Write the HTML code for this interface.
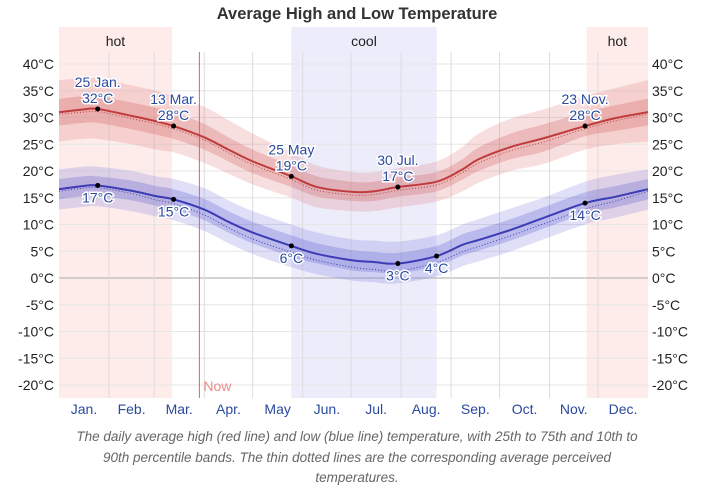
<!DOCTYPE html>
<html><head><meta charset="utf-8"><style>
body{margin:0;background:#fff;width:714px;height:490px;overflow:hidden;font-family:"Liberation Sans",sans-serif}
#cap{position:absolute;left:0;top:427px;width:714px;text-align:center;font-style:italic;color:#666;font-size:13.5px;line-height:20.5px}
</style></head><body>
<svg id="chart" width="714" height="490" style="position:absolute;left:0;top:0"></svg>
<div id="cap">The daily average high (red line) and low (blue line) temperature, with 25th to 75th and 10th to<br>90th percentile bands. The thin dotted lines are the corresponding average perceived<br>temperatures.</div>
<script>
const days=[0,15,24,45,60,71,90,105,120,144,160,182,195,210,234,250,260,280,300,326,345,365];
const high=[31,31.5,31.6,30.3,29.3,28.4,26.3,24,21.8,19,17,16.1,16.2,17,18,20.3,22.2,24.5,26.1,28.4,29.9,31];
const highP90=[37,37.3,37.3,36,35,34,32,29.5,27,23.5,21,19.8,19.8,20.5,21.8,24.5,27,29.8,31.5,34,35.5,37];
const highP75=[33.5,34,34,32.8,31.8,31,28.8,26.3,24,21,19,18,18,18.8,19.8,22.2,24.4,27,28.7,31,32.3,33.5];
const highP25=[28.5,29,29,27.8,26.8,26,24,21.8,19.6,17,15.2,14.4,14.4,15.2,16.2,18.4,20,22.2,23.6,26.5,27.5,28.5];
const highP10=[25.5,26,26,25,24,23.5,21.5,19.5,17.5,15,13.2,12.5,12.5,13.2,14.3,16.2,17.8,20,21.3,24,25,25.5];
const highFeel=[30.6,31,31.1,29.8,28.8,27.9,25.8,23.4,21.2,18.4,16.4,15.5,15.6,16.4,17.4,19.7,21.5,23.8,25.4,27.9,29.4,30.6];
const low=[16.6,17.2,17.3,16.3,15.3,14.7,12.8,10.5,8.5,6,4.5,3.3,3,2.7,4.1,6.2,7.1,9,11.2,14,15.2,16.6];
const lowP90=[20.3,20.8,20.8,20,19,18.5,16.8,14.5,12.5,10,8.5,7.2,7,6.8,8,10,11,13,15,18,19.3,20.3];
const lowP75=[18.5,19,19,18.2,17.2,16.6,14.8,12.5,10.5,8,6.5,5.2,4.9,4.7,6,8.2,9.1,11,13.2,16,17.2,18.5];
const lowP25=[14.7,15.3,15.4,14.5,13.5,12.8,10.8,8.5,6.5,4,2.7,1.4,1.1,0.9,2.2,4.2,5.1,7,9.2,12,13.2,14.7];
const lowP10=[12.8,13.3,13.4,12.5,11.5,10.8,8.8,6.5,4.5,2,0.7,-0.5,-0.8,-1,0.3,2.2,3.1,5,7.2,10,11.3,12.8];
const lowFeel=[16.2,16.8,16.9,15.8,14.6,13.9,11.8,9.4,7.3,4.8,3.3,2,1.6,1.3,2.9,4.9,5.9,7.9,10.1,12.9,14.4,16.2];
const yTicks=[40,35,30,25,20,15,10,5,0,-5,-10,-15,-20];
const months=["Jan.","Feb.","Mar.","Apr.","May","Jun.","Jul.","Aug.","Sep.","Oct.","Nov.","Dec."];
const monthStarts=[0,31,59,90,120,151,181,212,243,273,304,334,365];
const hotBands=[[0,70],[327,365]];
const coolBands=[[144,234]];
const nowDay=87;
const hiNotes=[[24,31.6,"25 Jan.","32°C"],[71,28.4,"13 Mar.","28°C"],[144,19,"25 May","19°C"],[210,17,"30 Jul.","17°C"],[326,28.4,"23 Nov.","28°C"]];
const loNotes=[[24,17.3,"17°C"],[71,14.7,"15°C"],[144,6,"6°C"],[210,2.7,"3°C"],[234,4.1,"4°C"],[326,14,"14°C"]];

const X0=59,X1=648,Y40=64,PPD=5.35;
const sx=d=>X0+d*(X1-X0)/365;
const sy=t=>Y40+(40-t)*PPD;
const svg=document.getElementById('chart');
const NS="http://www.w3.org/2000/svg";
function mk(tag,attrs,parent){const e=document.createElementNS(NS,tag);for(const k in attrs)e.setAttribute(k,attrs[k]);(parent||svg).appendChild(e);return e;}
function pts(vals){return days.map((d,i)=>[sx(d),sy(vals[i])]);}
function curve(p){let s="M"+p[0][0]+","+p[0][1];for(let i=0;i<p.length-1;i++){const a=p[Math.max(0,i-1)],b=p[i],c=p[i+1],d=p[Math.min(p.length-1,i+2)];s+=" C"+(b[0]+(c[0]-a[0])/6)+","+(b[1]+(c[1]-a[1])/6)+" "+(c[0]-(d[0]-b[0])/6)+","+(c[1]-(d[1]-b[1])/6)+" "+c[0]+","+c[1];}return s;}
function band(up,dn){const u=pts(up),l=pts(dn).reverse();return curve(u)+" L"+l[0][0]+","+l[0][1]+curve(l).slice(1).replace(/^[^C]*/,"")+" Z";}

let t=mk('text',{x:357,y:19,'text-anchor':'middle','font-size':'16.5','font-weight':'bold',fill:'#333'});t.textContent="Average High and Low Temperature";

hotBands.forEach(b=>{const r=mk('rect',{x:sx(b[0]),y:27,width:sx(b[1])-sx(b[0]),height:371,fill:'#fdecea'});
 const l=mk('text',{x:(sx(b[0])+sx(b[1]))/2,y:46,'text-anchor':'middle','font-size':'14',fill:'#222'});l.textContent="hot";});
coolBands.forEach(b=>{const r=mk('rect',{x:sx(b[0]),y:27,width:sx(b[1])-sx(b[0]),height:371,fill:'#ececfb'});
 const l=mk('text',{x:(sx(b[0])+sx(b[1]))/2,y:46,'text-anchor':'middle','font-size':'14',fill:'#222'});l.textContent="cool";});
yTicks.forEach(v=>{const g=mk('line',{x1:X0,x2:X1,y1:sy(v),y2:sy(v),stroke:v===0?'#aaa':'#e6e6e6','stroke-width':1});
 const a=mk('text',{x:54,y:sy(v)+5,'text-anchor':'end','font-size':'14',fill:'#222'});a.textContent=v+"°C";
 const b=mk('text',{x:652,y:sy(v)+5,'text-anchor':'start','font-size':'14',fill:'#222'});b.textContent=v+"°C";});
monthStarts.slice(1,12).forEach(d=>{const g=mk('line',{x1:sx(d),x2:sx(d),y1:52,y2:398,stroke:'#ddd','stroke-width':1});});
months.forEach((m,i)=>{const a=mk('text',{x:(sx(monthStarts[i])+sx(monthStarts[i+1]))/2,y:414,'text-anchor':'middle','font-size':'14',fill:'#2a4a9e'});a.textContent=m;});
[[highP90,highP10,'rgba(225,110,110,0.22)','high-10-90-band'],[highP75,highP25,'rgba(200,80,80,0.26)','high-25-75-band'],[lowP90,lowP10,'rgba(110,110,225,0.22)','low-10-90-band'],[lowP75,lowP25,'rgba(80,80,200,0.26)','low-25-75-band']].forEach(b=>{const p=mk('path',{d:band(b[0],b[1]),fill:b[2]});});
let nl=mk('line',{x1:sx(nowDay),x2:sx(nowDay),y1:52,y2:398,stroke:'#e06060','stroke-width':1});
let nt=mk('text',{x:sx(nowDay)+4,y:391,'font-size':'14',fill:'#f08a8a'});nt.textContent="Now";
[[highFeel,'#c04040','high-perceived-line'],[lowFeel,'#4040b0','low-perceived-line']].forEach(s=>{const p=mk('path',{d:curve(pts(s[0])),fill:'none',stroke:s[1],'stroke-width':1,'stroke-dasharray':'1,2'});});
[[high,'#c03c3c','high-line'],[low,'#3c3cb4','low-line']].forEach(s=>{const p=mk('path',{d:curve(pts(s[0])),fill:'none',stroke:s[1],'stroke-width':2});});
hiNotes.forEach(n=>{const x=sx(n[0]),y=sy(n[1]);const c=mk('circle',{cx:x,cy:y,r:2.5,fill:'#000'});
 const a=mk('text',{x:x,y:y-22,'text-anchor':'middle','font-size':'14',fill:'#2a4a9e',stroke:'#fff','stroke-width':3,'paint-order':'stroke'});a.textContent=n[2];
 const b=mk('text',{x:x,y:y-6,'text-anchor':'middle','font-size':'14',fill:'#2a4a9e',stroke:'#fff','stroke-width':3,'paint-order':'stroke'});b.textContent=n[3];});
loNotes.forEach(n=>{const x=sx(n[0]),y=sy(n[1]);const c=mk('circle',{cx:x,cy:y,r:2.5,fill:'#000'});
 const b=mk('text',{x:x,y:y+17,'text-anchor':'middle','font-size':'14',fill:'#2a4a9e',stroke:'#fff','stroke-width':3,'paint-order':'stroke'});b.textContent=n[2];});
</script>
</body></html>
